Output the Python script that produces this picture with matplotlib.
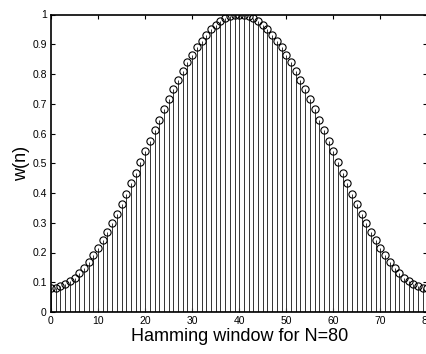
import matplotlib
matplotlib.use("Agg")
import matplotlib.pyplot as plt

n = list(range(81))
half = [0.080, 0.081, 0.086, 0.093, 0.103, 0.115, 0.130, 0.148, 0.168, 0.190,
        0.215, 0.241, 0.270, 0.300, 0.331, 0.364, 0.398, 0.433, 0.468, 0.504,
        0.540, 0.576, 0.612, 0.647, 0.682, 0.716, 0.749, 0.780, 0.810, 0.839,
        0.865, 0.890, 0.912, 0.932, 0.950, 0.965, 0.978, 0.987, 0.994, 0.999,
        1.000]
w = half + half[-2::-1]

xticks = [0, 10, 20, 30, 40, 50, 60, 70, 80]
yticks = [0, 0.1, 0.2, 0.3, 0.4, 0.5, 0.6, 0.7, 0.8, 0.9, 1]
ytick_labels = ["0", "0.1", "0.2", "0.3", "0.4", "0.5", "0.6", "0.7", "0.8", "0.9", "1"]

plt.rcParams['font.family'] = ['Liberation Sans', 'DejaVu Sans']

fig = plt.figure(figsize=(4.27, 3.54), dpi=100)
ax = fig.add_axes([51/427, 1 - 312/354, 376.5/427, (312 - 14.5)/354])

markerline, stemlines, baseline = ax.stem(n, w, linefmt='k-', markerfmt='o', basefmt='k-')
plt.setp(stemlines, linewidth=0.7, color='#333333')
plt.setp(markerline, markerfacecolor='none', markeredgecolor='black', markersize=5.2, markeredgewidth=0.8)
plt.setp(baseline, linewidth=1.0)

ax.set_xlim(0, 80)
ax.set_ylim(0, 1)
ax.set_xticks(xticks)
ax.set_yticks(yticks)
ax.set_yticklabels(ytick_labels)
ax.tick_params(direction='in', top=True, right=True, length=3, width=0.8, labelsize=7.5, pad=3)
for s in ax.spines.values():
    s.set_linewidth(1.2)
    s.set_color('black')

ax.set_xlabel("Hamming window for N=80", fontsize=13, labelpad=1)
ax.set_ylabel("w(n)", fontsize=13, labelpad=2)

fig.savefig("out.png", dpi=100)
